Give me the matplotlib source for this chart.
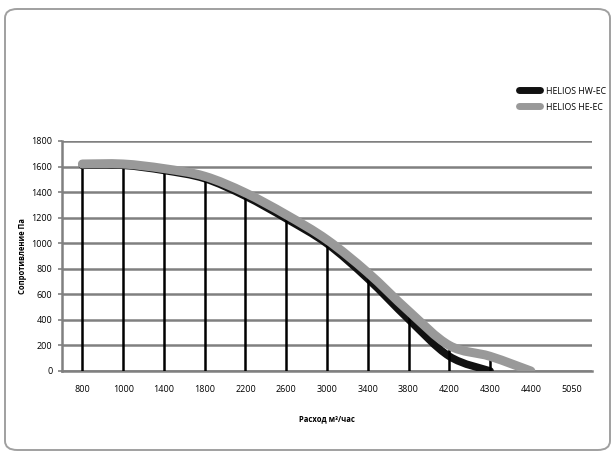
import matplotlib
matplotlib.use("Agg")
import matplotlib.pyplot as plt
import numpy as np
from matplotlib.path import Path
from matplotlib.patches import PathPatch, FancyBboxPatch
from matplotlib.lines import Line2D

plt.rcParams['font.family'] = ['Open Sans', 'DejaVu Sans']

# categories on the x axis
flow = ["800", "1000", "1400", "1800", "2200", "2600", "3000",
        "3400", "3800", "4200", "4300", "4400", "5050"]
# pressure, Pa
hw_ec = [1610, 1610, 1570, 1506, 1368, 1192, 996, 722, 405, 115, 0]
he_ec = [1620, 1620, 1584, 1524, 1394, 1223, 1027, 770, 470, 200, 115, 0]
names = ["HELIOS HW-EC", "HELIOS HE-EC"]
yticks = list(range(0, 1801, 200))

GRID = "#808080"


def smooth_path(y):
    # cubic bezier through every point (like excel "smoothed line")
    x = np.arange(len(y), dtype=float)
    y = np.asarray(y, dtype=float)
    pts = np.column_stack([x, y])
    verts = [pts[0]]
    codes = [Path.MOVETO]
    n = len(pts)
    for i in range(n - 1):
        p0 = pts[i - 1] if i > 0 else pts[i]
        p1 = pts[i]
        p2 = pts[i + 1]
        p3 = pts[i + 2] if i + 2 < n else pts[i + 1]
        c1 = p1 + (p2 - p0) / 6.0
        c2 = p2 - (p3 - p1) / 6.0
        verts += [c1, c2, p2]
        codes += [Path.CURVE4] * 3
    return Path(verts, codes)


fig = plt.figure(figsize=(6.16, 4.54), dpi=100)
ax = fig.add_axes([62 / 616, 83 / 454, 530 / 616, 230 / 454])

# outer rounded frame
frame = FancyBboxPatch((5 / 616, 4 / 454), 605 / 616, 441 / 454,
                       boxstyle="round,pad=0,rounding_size=0.02",
                       transform=fig.transFigure, fill=False,
                       edgecolor="#a0a0a0", linewidth=1.4, zorder=0)
fig.patches.append(frame)

ax.set_xlim(-0.5, len(flow) - 0.5)
ax.set_ylim(0, 1800)
ax.set_yticks(yticks)
ax.set_xticks(range(len(flow)))
ax.set_xticklabels(flow)
ax.yaxis.grid(True, color=GRID, linewidth=1.8)
ax.set_axisbelow(True)
for s in ["top", "right"]:
    ax.spines[s].set_visible(False)
ax.spines["left"].set_color(GRID)
ax.spines["left"].set_linewidth(1.8)
ax.spines["bottom"].set_color(GRID)
ax.spines["bottom"].set_linewidth(1.8)
ax.spines["bottom"].set_zorder(1)
ax.tick_params(axis="x", length=0, pad=10, labelsize=6.5)
ax.tick_params(axis="y", length=3, width=1.2, color=GRID, pad=4, labelsize=6.5)

# drop lines to the highest series value
for i in range(len(he_ec)):
    vals = [he_ec[i]] + ([hw_ec[i]] if i < len(hw_ec) else [])
    top = max(vals)
    if top > 0:
        ax.vlines(i, 0, top, color="black", linewidth=1.8, zorder=3)

ax.add_patch(PathPatch(smooth_path(hw_ec), fill=False, edgecolor="#111111",
                       linewidth=5.5, capstyle="round", joinstyle="round",
                       zorder=2))
ax.add_patch(PathPatch(smooth_path(he_ec), fill=False, edgecolor="#999999",
                       linewidth=6.5, capstyle="round", joinstyle="round",
                       zorder=4))

ax.set_xlabel("Расход м³/час", fontsize=5.5, fontweight="bold", labelpad=15)
ax.set_ylabel("Сопротивление Па", fontsize=5.5, fontweight="bold", labelpad=3)

handles = [Line2D([0], [0], color="#111111", linewidth=5, solid_capstyle="round"),
           Line2D([0], [0], color="#999999", linewidth=5, solid_capstyle="round")]
fig.legend(handles, names, loc="center left",
           bbox_to_anchor=(519 / 616, 1 - 99 / 454), frameon=False,
           borderpad=0, borderaxespad=0,
           fontsize=6.3, handlelength=2.4, handletextpad=0.7, labelspacing=0.8)

fig.savefig("out.png", dpi=100)
